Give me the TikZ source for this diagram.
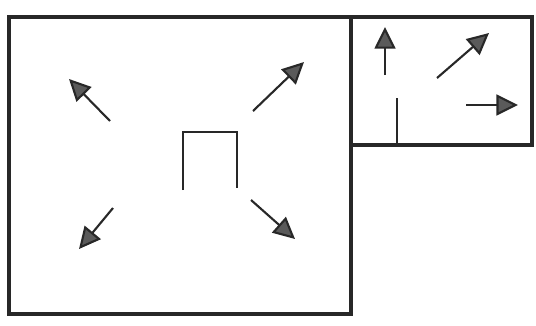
\documentclass[tikz,border=0pt]{standalone}
\usetikzlibrary{arrows.meta}
\definecolor{clrInk}{RGB}{40,40,40}
\definecolor{clrHead}{RGB}{90,90,90}
\tikzset{
  wall/.style={draw=clrInk,line width=2.2pt},
  move/.style={draw=clrInk,line width=1.5pt,
    -{Triangle[length=5.4mm,width=5.2mm,fill=clrHead]}}
}
\begin{document}
\begin{tikzpicture}[x=0.025cm,y=-0.025cm]
  \useasboundingbox (0,0) rectangle (536,325);
  % rooms
  \draw[wall] (9,17) rectangle (351,314);
  \draw[wall] (351,17) rectangle (532,145);
  % door in the big room
  \coordinate (dL) at (183,190);
  \coordinate (dR) at (237,188);
  \draw[wall,line width=1.8pt] (dL) -- (dL |- 0,132) -- (dR |- 0,132) -- (dR);
  % stub in the small room
  \coordinate (sT) at (397,98);
  \draw[wall,line width=1.8pt] (sT) -- (sT |- 0,145);
  % arrows, big room
  \coordinate (ulT) at (110,121);
  \coordinate (ulH) at (69,79);
  \coordinate (urT) at (253,111);
  \coordinate (urH) at (304,62);
  \coordinate (dlT) at (113,208);
  \coordinate (dlH) at (79,249);
  \coordinate (drT) at (251,200);
  \coordinate (drH) at (295,239);
  \draw[move] (ulT) -- (ulH);
  \draw[move] (urT) -- (urH);
  \draw[move] (dlT) -- (dlH);
  \draw[move] (drT) -- (drH);
  % arrows, small room
  \coordinate (upT) at (385,75);
  \coordinate (upH) at (385,27);
  \coordinate (diT) at (437,78);
  \coordinate (diH) at (489,33);
  \coordinate (rtT) at (466,105);
  \coordinate (rtH) at (518,105);
  \draw[move] (upT) -- (upH);
  \draw[move] (diT) -- (diH);
  \draw[move] (rtT) -- (rtH);
\end{tikzpicture}
\end{document}
